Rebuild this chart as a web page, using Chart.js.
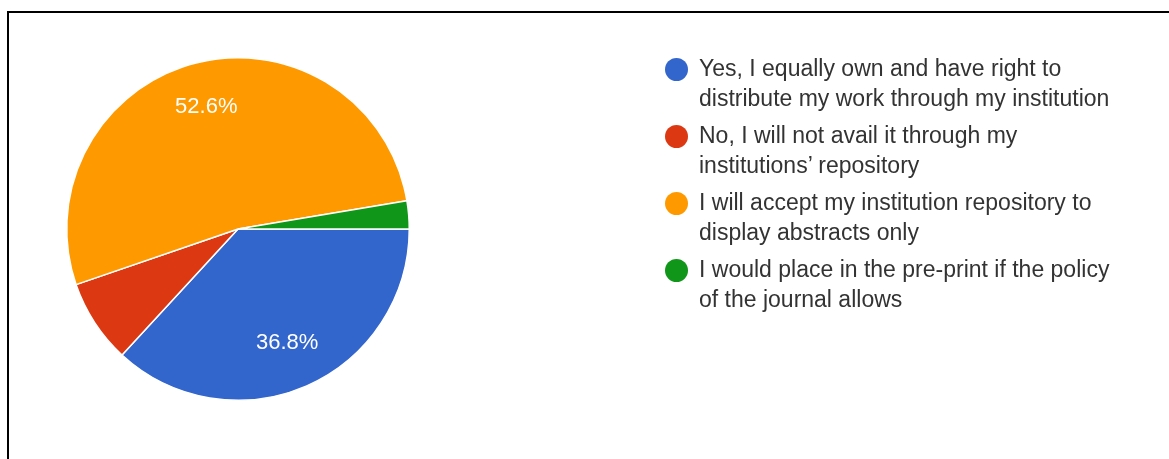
<!DOCTYPE html>
<html>
<head>
<meta charset="utf-8">
<script src="https://cdn.jsdelivr.net/npm/chart.js@4/dist/chart.umd.min.js"></script>
<style>
  html, body { margin: 0; padding: 0; background: #fff; }
  body { width: 1169px; height: 459px; position: relative; overflow: hidden; font-family: "Liberation Sans", Arial, sans-serif; }
  #frame { position: absolute; left: 7px; top: 11px; width: 1200px; height: 500px; border-top: 2px solid #000; border-left: 2px solid #000; }
  #chart { position: absolute; left: 0; top: 0; }
  #legend { position: absolute; left: 665px; top: 53px; }
  .item { display: flex; align-items: flex-start; margin-bottom: 6.4px; }
  .dot { width: 23px; height: 23px; border-radius: 50%; margin-top: 5px; margin-right: 11px; flex: none; }
  .txt { font-size: 23px; line-height: 30.3px; color: #333; white-space: nowrap; }
</style>
</head>
<body>
<div id="frame"></div>
<canvas id="chart" width="1169" height="459"></canvas>
<div id="legend"></div>
<script>
// answers (each entry = lines of the legend text)
const categories = [
    ['Yes, I equally own and have right to', 'distribute my work through my institution'],
    ['No, I will not avail it through my', 'institutions\u2019 repository'],
    ['I will accept my institution repository to', 'display abstracts only'],
    ['I would place in the pre-print if the policy', 'of the journal allows']
];
// responses counted per answer (36.8%, 7.9%, 52.6%, 2.6%)
const responses = [14, 3, 20, 1];
const colors = ['#3366cc', '#dc3912', '#ff9900', '#109618'];

// white percentage labels inside the bigger slices
const sliceLabels = {
    id: 'sliceLabels',
    afterDatasetsDraw(chart) {
        const ctx = chart.ctx;
        const meta = chart.getDatasetMeta(0);
        const total = responses.reduce((a, b) => a + b, 0);
        ctx.save();
        ctx.fillStyle = '#fff';
        ctx.font = '22px "Liberation Sans", Arial, sans-serif';
        ctx.textAlign = 'center';
        ctx.textBaseline = 'middle';
        meta.data.forEach((arc, i) => {
            const pct = responses[i] / total * 100;
            if (pct < 10) return;
            const mid = (arc.startAngle + arc.endAngle) / 2;
            const r = arc.outerRadius * 0.73;
            ctx.fillText(pct.toFixed(1) + '%', arc.x + Math.cos(mid) * r - 1, arc.y + Math.sin(mid) * r - 1);
        });
        ctx.restore();
    }
};

new Chart(document.getElementById('chart'), {
    type: 'pie',
    data: {
        labels: categories.map(c => c.join(' ')),
        datasets: [{ data: responses, backgroundColor: colors, borderColor: '#fff', borderWidth: 1.5 }]
    },
    options: {
        responsive: false,
        animation: false,
        rotation: 90,
        layout: { padding: { left: 66, right: 759, top: 57, bottom: 58 } },
        plugins: { legend: { display: false }, tooltip: { enabled: false } }
    },
    plugins: [sliceLabels]
});

document.getElementById('legend').innerHTML = categories.map((lines, i) => `
    <div class="item"><div class="dot" style="background:${colors[i]}"></div>
    <div class="txt">${lines.join('<br>')}</div></div>`).join('');
</script>
</body>
</html>
